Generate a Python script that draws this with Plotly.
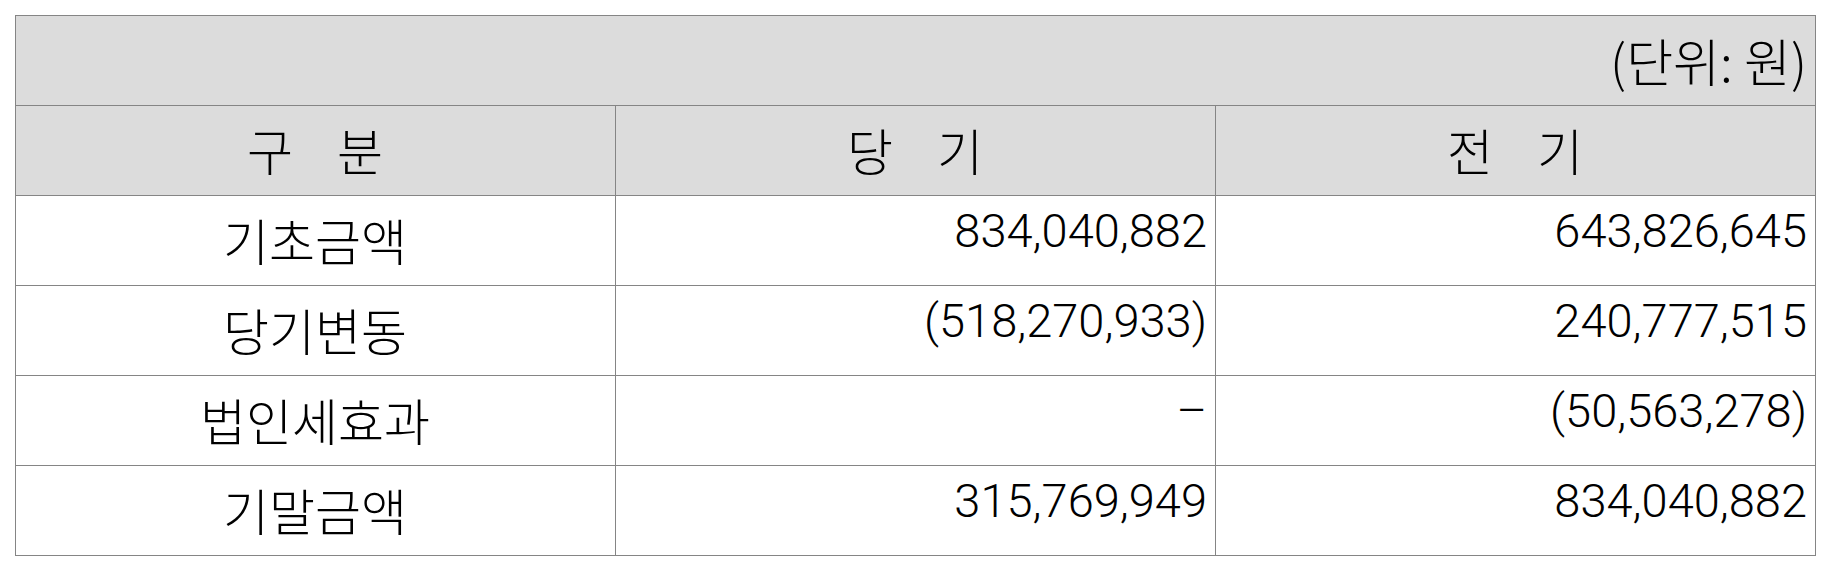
import plotly.graph_objects as go

# table contents
unit_label = "(단위: 원)"
col_headers = ["구\u00a0\u00a0\u00a0\u00a0분", "당\u00a0\u00a0\u00a0\u00a0기", "전\u00a0\u00a0\u00a0\u00a0기"]
row_labels = ["기초금액", "당기변동", "법인세효과", "기말금액"]
current_period = [834040882, -518270933, None, 315769949]
prior_period = [643826645, 240777515, -50563278, 834040882]


def fmt(v):
    if v is None:
        return "\u2013"
    if v < 0:
        return f"({abs(v):,})"
    return f"{v:,}"


def big(txt, size, family=None):
    # empty first line (small base font) pushes the text down to the middle of the row;
    # the <br> also stops plotly from word-wrapping inside the span tag
    style = f"font-size:{size}px;font-weight:300"
    if family:
        style += f";font-family:{family}"
    return f"<br><span style='{style}'>{txt}</span>"


W, H = 1833, 571
left, right, top = 7, 1807, 7
row_h = 90
base_size = 30
kor_size = 50
num_size = 47

kor_family = "Noto Sans CJK KR"
num_family = "Roboto"
head_fill = "#dcdcdc"
line_col = "#858585"

unit_table = go.Table(
    domain=dict(x=[left / W, right / W], y=[1 - (top + row_h) / H, 1 - top / H]),
    columnwidth=[1],
    header=dict(
        values=[big(unit_label, kor_size + 1)],
        align="right",
        height=row_h,
        fill=dict(color=head_fill),
        line=dict(color=line_col, width=1),
        font=dict(family=kor_family, size=base_size, color="black"),
    ),
    cells=dict(values=[[]], height=row_h),
)

main_table = go.Table(
    domain=dict(x=[left / W, right / W], y=[0, 1 - (top + row_h) / H]),
    columnwidth=[1, 1, 1],
    header=dict(
        values=[big(h, kor_size) for h in col_headers],
        align="center",
        height=row_h,
        fill=dict(color=head_fill),
        line=dict(color=line_col, width=1),
        font=dict(family=kor_family, size=base_size, color="black"),
    ),
    cells=dict(
        values=[
            [big(r, kor_size) for r in row_labels],
            [big(fmt(v), num_size, num_family) for v in current_period],
            [big(fmt(v), num_size, num_family) for v in prior_period],
        ],
        align=["center", "right", "right"],
        height=row_h,
        fill=dict(color="white"),
        line=dict(color=line_col, width=1),
        font=dict(family=kor_family, size=base_size, color="black"),
    ),
)

fig = go.Figure(data=[unit_table, main_table])
fig.update_layout(
    width=W,
    height=H,
    margin=dict(l=0, r=0, t=0, b=0),
    paper_bgcolor="white",
)

fig.write_html("out.html")
